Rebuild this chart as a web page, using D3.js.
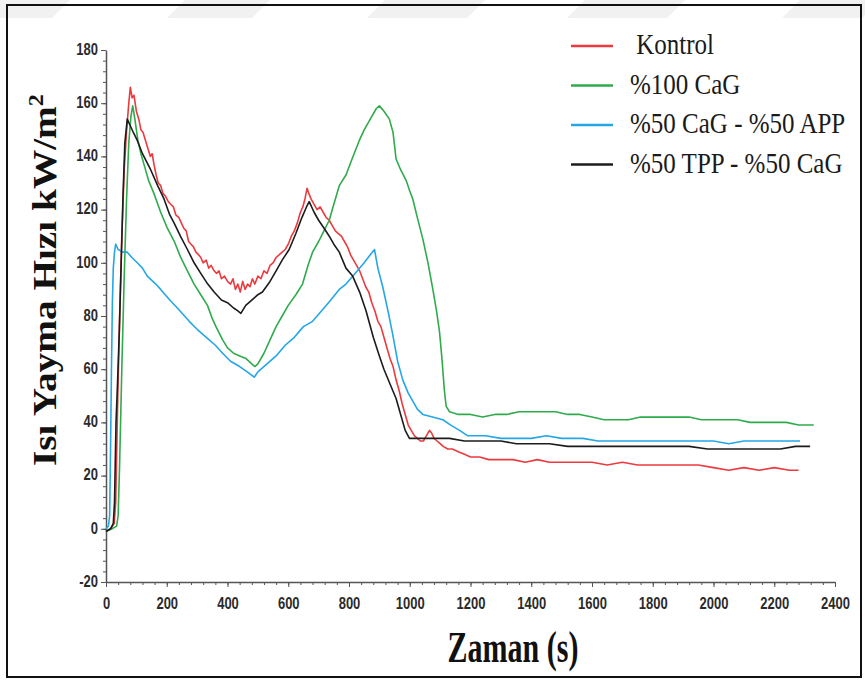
<!DOCTYPE html>
<html>
<head>
<meta charset="utf-8">
<script src="https://cdn.jsdelivr.net/npm/d3@7"></script>
<style>
  body { margin: 0; background: #fff; }
  svg { display: block; }
  .axis path, .axis line { stroke: #555; }
  .axis text { font-family: "Liberation Sans", Arial, sans-serif; font-weight: bold; font-size: 13px; fill: #2a2a2a; }
</style>
</head>
<body>
<svg width="865" height="681"></svg>
<script>
// heat release rate curves, [time (s), kW/m2]
const kontrol = [[0,-1],[15,0],[27,2],[32,10],[38,45],[45,80],[52,110],[60,135],[68,150],[75,160],[80,166],[86,162],[92,163],[100,157],[108,154],[115,150],[122,149],[130,146],[138,143],[146,140],[152,141],[158,137],[165,133],[172,130],[180,129],[188,126],[196,125],[205,123],[213,122],[222,121],[230,118],[240,117],[248,115],[256,113],[264,112],[272,108],[280,107],[288,106],[296,104],[305,103],[312,102],[320,100],[330,101],[338,98],[346,99],[356,97],[364,96],[372,97],[380,94],[390,95],[400,93],[410,92],[418,94],[426,90],[434,92],[442,89],[450,93],[458,90],[466,92],[474,91],[482,94],[490,92],[500,95],[510,94],[520,97],[530,96],[540,99],[550,100],[560,102],[570,103],[580,104],[590,105],[600,107],[610,110],[620,112],[630,115],[640,119],[648,121],[655,124],[662,128],[668,126],[675,124],[685,122],[695,120],[705,121],[715,119],[725,117],[735,116],[745,114],[755,112],[765,111],[775,110],[785,108],[795,106],[805,103],[815,101],[825,99],[835,97],[845,94],[855,91],[865,89],[875,85],[885,82],[895,78],[905,76],[915,72],[925,68],[935,64],[945,61],[955,56],[965,52],[975,47],[985,43],[995,39],[1005,37],[1015,35],[1025,34],[1035,33],[1045,33],[1055,35],[1065,37],[1072,36],[1080,34],[1090,33],[1100,32],[1110,31],[1125,30],[1140,30],[1160,29],[1180,28],[1200,27],[1230,27],[1260,26],[1300,26],[1340,26],[1380,25],[1420,26],[1460,25],[1500,25],[1550,25],[1600,25],[1650,24],[1700,25],[1750,24],[1800,24],[1850,24],[1900,24],[1950,24],[2000,23],[2050,22],[2100,23],[2150,22],[2200,23],[2250,22],[2280,22]];
const cag100 = [[0,-1],[20,0],[35,1],[40,5],[45,25],[52,60],[60,95],[68,125],[75,145],[82,155],[88,159],[95,154],[105,146],[115,141],[125,137],[140,131],[158,126],[180,119],[202,113],[225,108],[246,102],[268,97],[290,92],[312,88],[334,84],[350,79],[362,76],[384,71],[400,68],[420,66],[440,65],[461,64],[480,62],[490,61],[500,62],[520,66],[540,71],[560,76],[580,80],[600,84],[625,88],[647,92],[665,99],[680,104],[700,108],[713,111],[735,116],[750,122],[768,129],[790,133],[810,139],[834,146],[850,150],[870,154],[890,158],[900,159],[915,157],[933,154],[945,149],[955,139],[970,135],[988,131],[1000,127],[1010,124],[1025,117],[1043,109],[1060,100],[1076,90],[1088,82],[1098,74],[1106,64],[1114,52],[1120,46],[1131,44],[1160,43],[1200,43],[1240,42],[1280,43],[1320,43],[1360,44],[1400,44],[1440,44],[1480,44],[1520,43],[1560,43],[1600,42],[1640,41],[1680,41],[1720,41],[1760,42],[1800,42],[1840,42],[1880,42],[1920,42],[1960,41],[2000,41],[2040,41],[2080,41],[2120,40],[2160,40],[2200,40],[2240,40],[2280,39],[2330,39]];
const cagApp = [[0,0],[8,1],[12,5],[15,30],[18,60],[21,85],[24,98],[28,104],[32,107],[40,105],[55,104],[70,104],[85,102],[103,100],[120,98],[136,95],[164,92],[180,90],[210,86],[235,83],[274,78],[300,75],[330,72],[360,69],[384,66],[410,63],[440,61],[465,59],[488,57],[500,59],[530,62],[560,65],[590,69],[620,72],[650,76],[680,78],[710,82],[740,86],[768,90],[790,92],[820,96],[850,100],[870,103],[884,105],[895,98],[911,91],[930,81],[944,73],[960,63],[977,56],[995,51],[1010,48],[1025,45],[1043,43],[1075,42],[1109,41],[1135,39],[1164,37],[1190,35],[1208,35],[1250,35],[1300,34],[1351,34],[1400,34],[1450,35],[1500,34],[1570,34],[1620,33],[1680,33],[1740,33],[1790,33],[1850,33],[1900,33],[1950,33],[2000,33],[2050,32],[2100,33],[2150,33],[2200,33],[2250,33],[2285,33]];
const tppCag = [[0,-1],[15,0],[24,2],[28,10],[33,40],[38,55],[44,75],[50,100],[56,125],[62,145],[70,154],[78,152],[90,149],[103,146],[120,141],[147,135],[170,129],[191,124],[210,118],[224,115],[245,110],[268,105],[290,100],[312,96],[335,92],[356,89],[380,86],[400,85],[420,83],[433,82],[444,81],[460,84],[480,86],[500,88],[515,89],[540,93],[560,97],[580,101],[603,105],[625,111],[645,117],[660,121],[669,123],[685,119],[700,116],[718,113],[735,110],[750,107],[768,104],[790,98],[812,95],[835,89],[856,82],[880,72],[900,65],[915,60],[933,55],[955,49],[970,43],[985,37],[999,34],[1020,34],[1060,34],[1100,34],[1131,34],[1180,33],[1240,33],[1300,33],[1351,32],[1400,32],[1460,32],[1520,31],[1570,31],[1620,31],[1680,31],[1740,31],[1800,31],[1860,31],[1920,31],[1980,30],[2040,30],[2100,30],[2160,30],[2220,30],[2270,31],[2318,31]];

const seriesNames = [" Kontrol", "%100 CaG", "%50 CaG - %50 APP", "%50 TPP - %50 CaG"];
const seriesData = [kontrol, cag100, cagApp, tppCag];
const seriesColors = ["#ec3a3f", "#2fab4c", "#23a7e6", "#1c1c1c"];
const xTicks = d3.range(0, 2401, 200);
const yTicks = d3.range(-20, 181, 20);

let svg = d3.select("svg");

// faint watermark stripes along the top
[[0,70],[185,270],[385,485],[585,685],[800,880]].forEach(function (s) {
    svg.append("polygon")
        .attr("points", `${s[0]},0 ${s[1]},0 ${s[1]-18},18 ${s[0]-18},18`)
        .attr("fill", "#f1f1f1");
});

svg.append("rect")
    .attr("x", 7).attr("y", 5)
    .attr("width", 854).attr("height", 672)
    .attr("fill", "none")
    .attr("stroke", "#111")
    .attr("stroke-width", 2);

let x = d3.scaleLinear().domain([0, 2400]).range([106, 835]);
let y = d3.scaleLinear().domain([-20, 180]).range([582, 50]);

// minor ticks
svg.append("g").attr("class", "axis")
    .attr("transform", "translate(106,0)")
    .call(d3.axisLeft(y).tickValues(d3.range(-20, 181, 4)).tickSize(3).tickFormat(""))
    .call(g => g.select(".domain").remove());
svg.append("g").attr("class", "axis")
    .attr("transform", "translate(0,582)")
    .call(d3.axisBottom(x).tickValues(d3.range(0, 2401, 40)).tickSize(3).tickFormat(""))
    .call(g => g.select(".domain").remove());

let yAxis = svg.append("g").attr("class", "axis")
    .attr("transform", "translate(106,0)")
    .call(d3.axisLeft(y).tickValues(yTicks).tickSize(5).tickSizeOuter(0).tickPadding(3).tickFormat(d => String(d)));
yAxis.selectAll("text").attr("transform", "scale(1,1.2)").attr("dy", "0.27em");

let xAxis = svg.append("g").attr("class", "axis")
    .attr("transform", "translate(0,582)")
    .call(d3.axisBottom(x).tickValues(xTicks).tickSize(5).tickSizeOuter(0).tickPadding(8).tickFormat(d => String(d)));
xAxis.selectAll("text").attr("transform", "scale(1,1.2)");
svg.selectAll(".axis .domain").attr("stroke-width", 1.5);

let line = d3.line()
    .x(d => x(d[0]))
    .y(d => y(d[1]));

seriesData.forEach(function (d, i) {
    svg.append("path")
        .datum(d)
        .attr("fill", "none")
        .attr("stroke", seriesColors[i])
        .attr("stroke-width", 1.6)
        .attr("stroke-linejoin", "round")
        .attr("d", line);
});

// legend
let legend = svg.append("g");
seriesNames.forEach(function (name, i) {
    let ly = 46 + i * 39.5;
    legend.append("line")
        .attr("x1", 571).attr("x2", 613)
        .attr("y1", ly).attr("y2", ly)
        .attr("stroke", seriesColors[i])
        .attr("stroke-width", 2.5);
    legend.append("text")
        .attr("transform", `translate(630,${ly + 8}) scale(1,1.2)`)
        .attr("xml:space", "preserve")
        .style("font-family", "'Liberation Serif', 'Times New Roman', serif")
        .style("font-size", "25px")
        .attr("fill", "#1a1a1a")
        .text(name);
});

// axis titles
svg.append("text")
    .attr("transform", "translate(513,662) scale(1,1.45)")
    .attr("text-anchor", "middle")
    .style("font-family", "'Liberation Serif', 'Times New Roman', serif")
    .style("font-weight", "bold")
    .style("font-size", "30px")
    .attr("fill", "#111")
    .text("Zaman (s)");

let yTitle = svg.append("text")
    .attr("transform", "translate(56,466) rotate(-90)")
    .style("font-family", "'Liberation Serif', 'Times New Roman', serif")
    .style("font-weight", "bold")
    .style("font-size", "34px")
    .attr("fill", "#111")
    .attr("textLength", 372)
    .attr("lengthAdjust", "spacingAndGlyphs");
yTitle.append("tspan").text("Isı Yayma Hızı kW/m");
yTitle.append("tspan").attr("dy", -13).style("font-size", "21px").text("2");
</script>
</body>
</html>
